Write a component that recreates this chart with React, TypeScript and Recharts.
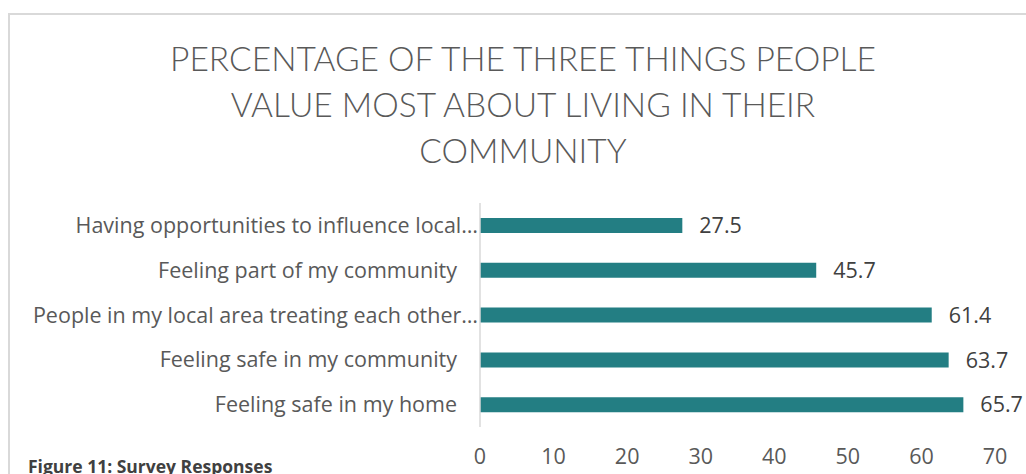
import React from 'react';
import { BarChart, Bar, XAxis, YAxis, LabelList } from 'recharts';

const categories = [
  'Having opportunities to influence local…',
  'Feeling part of my community',
  'People in my local area treating each other…',
  'Feeling safe in my community',
  'Feeling safe in my home',
];
const values = [27.5, 45.7, 61.4, 63.7, 65.7];
const xTicks = [0, 10, 20, 30, 40, 50, 60, 70];
const titleLines = [
  'PERCENTAGE OF THE THREE THINGS PEOPLE',
  'VALUE MOST ABOUT LIVING IN THEIR',
  'COMMUNITY',
];

const data = categories.map((name, i) => ({ name, value: values[i] }));

const TITLE_FONT = 'Lato, "Open Sans", sans-serif';
const FONT = '"Open Sans", Lato, sans-serif';
const FS = 21.5;

// truncated labels in the original run right up to the axis line
function CategoryTick(props: any) {
  const { x, y, payload } = props;
  const truncated = String(payload.value).endsWith('…');
  return (
    <text
      x={truncated ? x - 2 : x - 23}
      y={y}
      dy="0.355em"
      textAnchor="end"
      fill="#595959"
      fontSize={FS}
      fontFamily={FONT}
    >
      {payload.value}
    </text>
  );
}

export default function App() {
  return (
    <div
      style={{
        position: 'absolute',
        left: 0,
        top: 0,
        width: 1026,
        height: 474,
        overflow: 'hidden',
        background: '#fff',
        fontFamily: FONT,
      }}
    >
      <div
        style={{
          position: 'absolute',
          left: 8,
          top: 13,
          width: 1040,
          height: 520,
          border: '2px solid #d9d9d9',
        }}
      />
      <div
        style={{
          position: 'absolute',
          left: 8,
          top: 35,
          width: 1030,
          textAlign: 'center',
          fontSize: 33.5,
          lineHeight: '46px',
          color: '#595959',
          fontWeight: 300,
          fontFamily: TITLE_FONT,
        }}
      >
        {titleLines.map((t) => (
          <div key={t}>{t}</div>
        ))}
      </div>
      <div style={{ position: 'absolute', left: 0, top: 0 }}>
        <BarChart
          width={1026}
          height={474}
          data={data}
          layout="vertical"
          margin={{ top: 203, right: 31, bottom: 0, left: 0 }}
          barSize={15}
        >
          <XAxis
            type="number"
            domain={[0, 70]}
            ticks={xTicks}
            height={47}
            axisLine={false}
            tickLine={false}
            tickSize={0}
            tickMargin={22}
            tick={{ fill: '#595959', fontSize: FS, fontFamily: FONT }}
          />
          <YAxis
            type="category"
            dataKey="name"
            width={480}
            axisLine={{ stroke: '#d9d9d9', strokeWidth: 1.5 }}
            tickLine={false}
            tickSize={0}
            tickMargin={0}
            interval={0}
            tick={<CategoryTick />}
          />
          <Bar dataKey="value" fill="#237e83" isAnimationActive={false}>
            <LabelList
              dataKey="value"
              position="right"
              offset={17}
              fill="#404040"
              fontSize={FS}
              fontFamily={FONT}
            />
          </Bar>
        </BarChart>
      </div>
      <div
        style={{
          position: 'absolute',
          left: 28,
          top: 455,
          fontSize: 17.5,
          fontWeight: 700,
          color: '#404040',
          lineHeight: '22px',
          fontFamily: FONT,
        }}
      >
        Figure 11: Survey Responses
      </div>
    </div>
  );
}
